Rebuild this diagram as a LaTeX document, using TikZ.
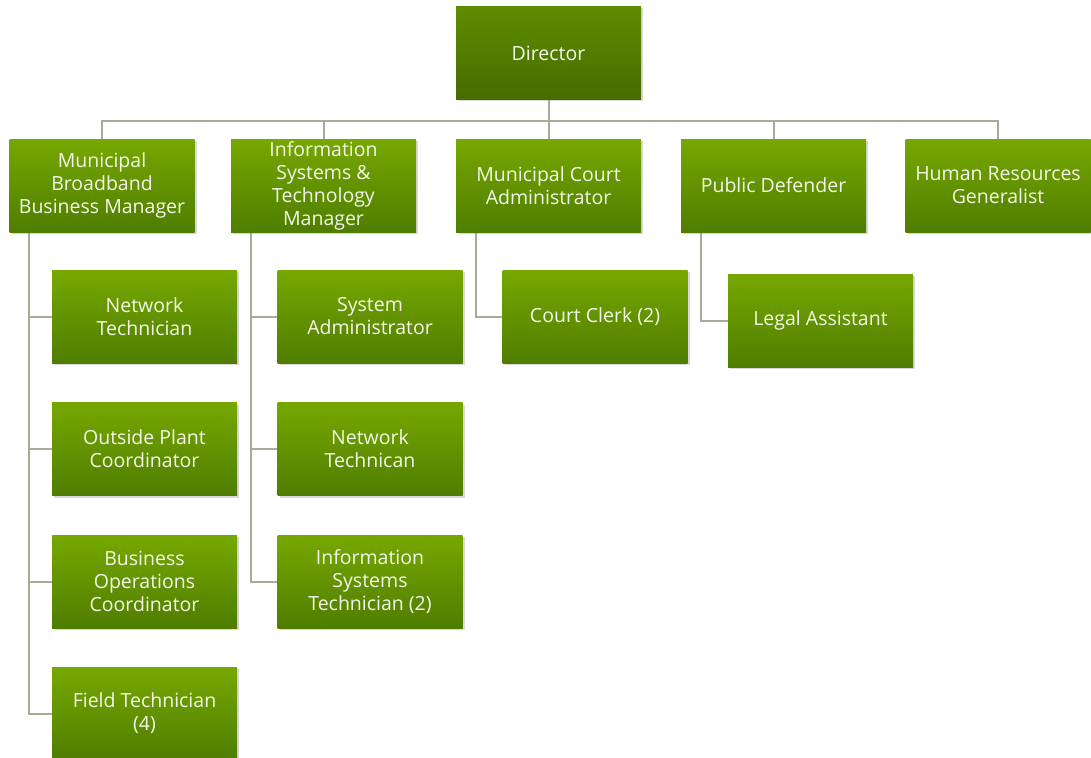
\documentclass[tikz,border=0pt]{standalone}
\usepackage{fontspec}
\setmainfont{Open Sans}
\usetikzlibrary{shadows,backgrounds}
\definecolor{gtop}{HTML}{76A800}
\definecolor{gbot}{HTML}{4F7D00}
\definecolor{dtop}{HTML}{5E8C00}
\definecolor{dbot}{HTML}{466C00}
\definecolor{conn}{HTML}{A3AE95}
\definecolor{txt}{HTML}{F4F6EA}
\begin{document}
\begin{tikzpicture}[x=1pt,y=-1pt,
 box/.style={minimum width=185pt, minimum height=93pt, inner sep=0pt, top color=gtop, bottom color=gbot, text=txt, align=center, font=\fontsize{19.5}{23}\selectfont, drop shadow={shadow xshift=2pt, shadow yshift=-2pt, opacity=0.3}},
 dirbox/.style={box, top color=dtop, bottom color=dbot},
 link/.style={draw=conn, line width=2pt}]
\useasboundingbox (0,0) rectangle (1091,757);
\node[dirbox] (dir) at (548.5,53) {Director};
\node[box] (mbbm) at (102,185.5) {Municipal\\Broadband\\Business Manager};
\node[box] (ist) at (323.5,185.5) {Information\\Systems \&\\Technology\\Manager};
\node[box] (mca) at (548.5,185.5) {Municipal Court\\Administrator};
\node[box] (pd) at (773.5,185.5) {Public Defender};
\node[box] (hr) at (998,185.5) {Human Resources\\Generalist};
\node[box] (nt) at (144.5,316.5) {Network\\Technician};
\node[box] (opc) at (144.5,449) {Outside Plant\\Coordinator};
\node[box] (boc) at (144.5,581.5) {Business\\Operations\\Coordinator};
\node[box] (ft) at (144.5,713.5) {Field Technician\\(4)};
\node[box] (sa) at (370,316.5) {System\\Administrator};
\node[box] (ntc) at (370,449) {Network\\Technican};
\node[box] (ist2) at (370,581.5) {Information\\Systems\\Technician (2)};
\node[box] (cc) at (595,316.5) {Court Clerk (2)};
\node[box] (la) at (820.5,320.5) {Legal Assistant};
\begin{scope}[on background layer]
\foreach \n in {mbbm,ist,mca,pd,hr}
  \draw[link] (dir.south) -- ++(0,21) -| (\n.north);
\foreach \n in {nt,opc,boc,ft}
  \draw[link] ([xshift=20pt]mbbm.south west) |- (\n.west);
\foreach \n in {sa,ntc,ist2}
  \draw[link] ([xshift=20pt]ist.south west) |- (\n.west);
\draw[link] ([xshift=20pt]mca.south west) |- (cc.west);
\draw[link] ([xshift=20pt]pd.south west) |- (la.west);
\end{scope}
\end{tikzpicture}
\end{document}
